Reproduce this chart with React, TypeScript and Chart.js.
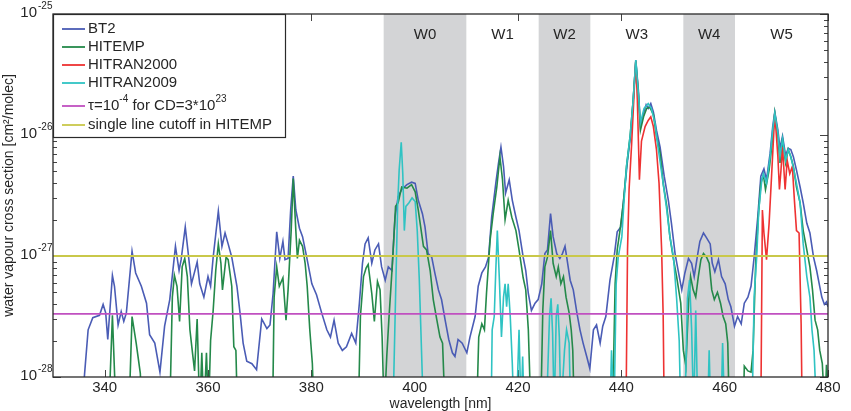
import React, { useEffect, useRef } from 'react';
import { Chart, registerables } from 'chart.js';

Chart.register(...registerables);

// Wavelength range [nm] and cross-section range [cm^2/molec]
const X_MIN = 330;
const X_MAX = 480;
const Y_MIN = 1e-28;
const Y_MAX = 1e-25;

// Tick values
const xTicks = [340, 360, 380, 400, 420, 440, 460, 480];
const yDecades = [-28, -27, -26, -25];

// Spectral windows (shaded ones and all labels)
const bandStart = [394, 424, 452];
const bandEnd = [410, 434, 462];
const windowNames = ['W0', 'W1', 'W2', 'W3', 'W4', 'W5'];
const windowCenters = [402, 417, 429, 443, 457, 471];

// Reference levels
const tauLevel = 3.33e-28; // tau = 1e-4 for CD = 3e23
const cutoffLevel = 1e-27; // single line cutoff in HITEMP

// Series: [wavelength nm, log10 cross section]
const bt2: [number, number][] = [
  [335.6, -28.3], [336.1, -27.98], [336.8, -27.61], [337.7, -27.51], [339.0, -27.49], [339.7, -27.4],
  [340.2, -27.47], [340.6, -27.69], [341.5, -27.16], [341.9, -27.25], [342.6, -27.57], [343.2, -27.46],
  [343.7, -27.54], [344.2, -27.47], [345.3, -26.96], [346.0, -27.14], [347.1, -27.25], [348.1, -27.39],
  [348.7, -27.65], [349.7, -27.72], [350.7, -27.96], [351.6, -27.58], [352.6, -27.36], [353.7, -26.92],
  [354.4, -27.12], [354.8, -27.03], [355.6, -26.76], [356.1, -26.95], [356.8, -27.23], [357.9, -27.05],
  [358.4, -27.23], [359.2, -27.34], [360.0, -27.17], [360.5, -27.25], [361.0, -27.01], [362.0, -26.63],
  [362.7, -26.92], [363.3, -26.81], [363.9, -26.9], [364.6, -27.01], [365.6, -27.25], [366.2, -27.47],
  [366.8, -27.72], [367.5, -27.87], [368.5, -27.89], [369.4, -27.94], [370.4, -27.52], [371.4, -27.6],
  [372.0, -27.57], [372.6, -27.31], [373.3, -26.8], [373.9, -27.02], [374.5, -26.88], [374.9, -27.03],
  [375.5, -27.02], [376.0, -26.62], [376.5, -26.34], [377.0, -26.62], [377.7, -26.77], [378.3, -26.84],
  [379.1, -27.01], [380.1, -27.23], [381.0, -27.32], [382.0, -27.47], [383.0, -27.61], [383.7, -27.67],
  [384.4, -27.53], [385.2, -27.72], [386.0, -27.78], [386.8, -27.75], [387.8, -27.64], [388.6, -27.72],
  [389.3, -27.39], [389.9, -27.06], [390.4, -26.9], [391.0, -26.85], [391.7, -27.06], [392.3, -26.95],
  [393.0, -26.9], [393.6, -27.09], [394.3, -27.2], [394.9, -27.09], [395.6, -27.12], [396.2, -26.68],
  [396.8, -26.51], [397.5, -26.45], [398.5, -26.41], [399.4, -26.39], [400.1, -26.4], [400.7, -26.54],
  [401.5, -26.65], [402.0, -26.76], [402.6, -26.98], [403.3, -27.01], [403.9, -27.14], [404.6, -27.28],
  [405.2, -27.36], [405.9, -27.53], [406.6, -27.69], [407.3, -27.8], [407.8, -27.83], [408.4, -27.69],
  [409.2, -27.72], [410.1, -27.8], [410.7, -27.67], [411.7, -27.5], [412.3, -27.25], [413.0, -27.14],
  [413.7, -27.09], [414.3, -27.01], [414.9, -26.68], [415.7, -26.4], [416.2, -26.24], [416.7, -26.1],
  [417.2, -26.26], [417.6, -26.48], [418.3, -26.37], [418.9, -26.54], [419.6, -26.68], [420.2, -26.79],
  [421.0, -27.01], [421.5, -27.12], [422.0, -27.31], [422.6, -27.45], [423.3, -27.39], [423.9, -27.36],
  [424.6, -27.23], [425.2, -26.98], [425.7, -26.95], [426.3, -26.65], [426.8, -26.84], [427.5, -26.98],
  [428.1, -27.02], [428.6, -26.98], [429.1, -26.92], [429.5, -27.03], [430.1, -27.2], [430.7, -27.28],
  [431.4, -27.47], [432.0, -27.61], [432.6, -27.72], [433.3, -27.83], [433.9, -27.93], [434.6, -27.61],
  [435.2, -27.57], [435.9, -27.72], [436.4, -27.58], [437.0, -27.5], [437.8, -27.2], [438.6, -27.01],
  [439.2, -26.8], [439.9, -26.76], [440.5, -26.51], [441.2, -26.21], [441.8, -26.0], [442.3, -25.71],
  [442.8, -25.38], [443.3, -25.63], [443.7, -25.93], [444.3, -25.82], [444.8, -25.75], [445.2, -25.78],
  [445.7, -25.74], [446.2, -25.81], [446.8, -25.96], [447.5, -26.1], [448.3, -26.34], [449.1, -26.54],
  [449.7, -26.73], [450.4, -26.98], [451.0, -27.12], [451.7, -27.28], [452.3, -27.14], [453.0, -27.02],
  [453.6, -27.06], [454.1, -27.17], [454.8, -26.98], [455.2, -26.88], [455.9, -26.81], [456.5, -26.85],
  [457.2, -26.9], [457.6, -27.06], [458.1, -27.13], [458.8, -27.03], [459.4, -27.17], [460.1, -27.23],
  [460.7, -27.36], [461.2, -27.42], [461.9, -27.58], [462.5, -27.5], [463.2, -27.56], [463.8, -27.39],
  [464.5, -27.34], [465.1, -27.25], [465.7, -27.01], [466.4, -26.68], [467.0, -26.34], [467.6, -26.28],
  [468.1, -26.37], [468.8, -26.15], [469.3, -25.93], [469.7, -25.81], [470.3, -25.96], [470.7, -26.11],
  [471.2, -26.01], [471.8, -26.17], [472.3, -26.11], [472.8, -26.12], [473.3, -26.18], [473.9, -26.29],
  [474.6, -26.43], [475.2, -26.56], [475.9, -26.73], [476.5, -26.81], [477.2, -27.01], [477.8, -27.12],
  [478.3, -27.23], [478.8, -27.34], [479.3, -27.4], [479.7, -27.38], [480.0, -27.42],
];

const hitemp: [number, number][] = [
  [340.8, -28.3], [341.5, -27.49], [342.2, -28.3], [344.7, -28.3], [345.3, -27.5], [346.1, -27.72],
  [346.9, -27.97], [347.2, -28.3], [352.6, -28.3], [353.1, -27.34], [353.5, -27.16], [354.0, -27.25],
  [354.5, -27.54], [355.0, -27.09], [355.5, -27.02], [356.0, -27.17], [356.5, -27.61], [357.0, -27.8],
  [357.4, -27.95], [357.9, -27.52], [358.4, -28.3], [358.8, -27.8], [359.2, -28.3], [359.7, -27.8],
  [360.1, -28.3], [360.5, -27.7], [361.0, -27.45], [361.5, -27.12], [362.0, -26.9], [362.5, -27.06],
  [362.8, -27.28], [363.5, -27.01], [363.9, -27.03], [364.6, -27.25], [365.0, -27.75], [365.4, -27.78],
  [365.7, -28.3], [372.5, -28.3], [372.8, -27.34], [373.3, -27.09], [373.8, -27.25], [374.5, -27.18],
  [375.1, -27.53], [375.5, -27.28], [376.1, -26.79], [376.5, -26.36], [377.0, -26.79], [377.3, -27.02],
  [377.7, -26.87], [378.3, -26.92], [378.8, -27.06], [379.2, -27.25], [379.7, -27.61], [380.2, -27.89],
  [380.5, -28.3], [389.1, -28.3], [389.5, -27.5], [390.1, -27.17], [390.6, -27.1], [391.0, -27.07],
  [391.7, -27.31], [392.2, -27.54], [392.8, -27.21], [393.3, -27.28], [393.7, -27.67], [394.1, -28.3],
  [394.6, -27.83], [395.0, -27.53], [395.7, -27.06], [396.3, -26.59], [396.8, -26.56], [397.5, -26.43],
  [398.5, -26.44], [399.4, -26.41], [400.1, -26.47], [400.7, -26.62], [401.7, -26.92], [402.3, -26.95],
  [403.0, -27.12], [403.6, -27.36], [404.3, -27.53], [404.9, -27.67], [405.4, -27.72], [405.9, -28.3],
  [412.0, -28.3], [412.4, -27.67], [413.0, -27.56], [413.5, -27.61], [413.9, -27.31], [414.6, -26.87],
  [415.2, -26.65], [415.9, -26.43], [416.5, -26.18], [417.0, -26.37], [417.5, -26.7], [418.1, -26.54],
  [418.8, -26.68], [419.6, -26.79], [420.2, -26.95], [421.0, -27.18], [421.5, -27.28], [422.0, -27.61],
  [422.5, -28.3], [424.4, -28.3], [424.8, -27.45], [425.2, -27.09], [425.7, -27.01], [426.3, -26.79],
  [426.8, -27.06], [427.4, -27.17], [427.8, -27.09], [428.3, -27.23], [428.8, -27.17], [429.3, -27.34],
  [429.9, -27.47], [430.3, -27.61], [430.6, -27.78], [430.9, -28.3], [438.3, -28.3], [438.8, -27.23],
  [439.2, -26.95], [439.7, -26.8], [440.4, -26.56], [441.0, -26.26], [441.7, -26.01], [442.3, -25.71],
  [442.8, -25.39], [443.3, -25.66], [443.7, -25.96], [444.3, -25.85], [444.9, -25.78], [445.5, -25.77],
  [446.2, -25.83], [446.8, -26.01], [447.5, -26.15], [448.1, -26.4], [448.8, -26.59], [449.4, -26.84],
  [450.1, -27.03], [450.7, -27.17], [451.5, -27.39], [452.0, -27.78], [452.5, -27.91], [453.0, -27.39],
  [453.4, -27.17], [453.9, -27.28], [454.4, -27.34], [454.9, -27.17], [455.4, -27.03], [455.9, -26.98],
  [456.5, -27.01], [457.0, -27.06], [457.5, -27.28], [458.0, -27.36], [458.6, -27.3], [459.2, -27.39],
  [459.7, -27.5], [460.2, -27.56], [460.6, -27.72], [460.9, -28.3], [463.6, -28.3], [463.8, -27.91],
  [464.5, -27.95], [465.1, -27.96], [465.5, -27.78], [466.0, -27.06], [466.5, -26.68], [467.0, -26.4],
  [467.5, -26.33], [467.9, -26.45], [468.6, -26.29], [469.1, -26.1], [469.7, -25.82], [470.3, -26.01],
  [470.7, -26.23], [471.2, -26.04], [471.8, -26.23], [472.3, -26.12], [472.8, -26.18], [473.3, -26.26],
  [473.9, -26.43], [474.6, -26.56], [475.2, -26.79], [475.9, -26.95], [476.5, -27.09], [477.0, -27.28],
  [477.5, -27.53], [478.0, -27.61], [478.4, -27.78], [478.9, -27.89], [479.4, -28.3], [479.7, -27.9],
  [480.0, -28.1],
];

const hitran2000: [number, number][] = [
  [440.9, -28.3], [441.2, -26.95], [441.5, -26.45], [442.0, -26.07], [442.5, -25.63], [442.8, -25.39],
  [443.1, -25.71], [443.5, -26.37], [443.9, -26.05], [444.6, -25.93], [445.2, -25.88], [445.7, -25.85],
  [446.2, -25.93], [446.8, -26.12], [447.3, -26.4], [447.8, -26.95], [448.1, -27.5], [448.3, -28.3],
  [467.0, -28.3], [467.3, -26.62], [467.6, -26.81], [468.1, -27.03], [468.6, -26.73], [469.1, -26.32],
  [469.7, -25.82], [470.3, -26.18], [470.6, -26.45], [470.9, -26.29], [471.2, -26.1], [471.7, -26.45],
  [472.1, -26.21], [472.6, -26.32], [473.1, -26.26], [473.5, -26.54], [473.9, -26.79], [474.4, -26.81],
  [474.8, -27.56], [475.0, -28.3],
];

const hitran2009: [number, number][] = [
  [395.8, -28.3], [396.3, -27.34], [396.7, -26.59], [397.0, -26.29], [397.4, -26.06], [397.7, -26.32],
  [398.0, -26.79], [398.3, -26.59], [398.9, -26.56], [399.5, -26.52], [400.1, -26.55], [400.5, -26.79],
  [400.9, -27.2], [401.2, -27.61], [401.7, -28.3], [414.8, -28.3], [415.0, -27.61], [415.4, -27.5],
  [415.7, -27.12], [416.0, -26.79], [416.4, -27.2], [416.8, -27.67], [417.2, -27.34], [417.5, -27.23],
  [417.8, -27.42], [418.1, -27.23], [418.5, -27.5], [418.9, -27.89], [419.2, -28.3], [419.7, -28.3],
  [420.2, -27.61], [420.6, -28.3], [420.9, -27.83], [421.2, -28.3], [425.5, -28.3], [426.1, -27.5],
  [426.4, -27.35], [426.7, -27.64], [427.0, -28.3], [427.4, -27.5], [427.7, -27.4], [428.0, -27.67],
  [428.3, -28.3], [429.0, -27.78], [429.4, -27.61], [429.9, -27.72], [430.2, -28.3], [437.8, -28.3],
  [438.1, -27.78], [438.6, -28.3], [439.0, -27.23], [439.4, -27.01], [440.1, -26.84], [440.5, -26.56],
  [441.0, -26.26], [441.7, -26.01], [442.3, -25.71], [442.8, -25.38], [443.3, -25.66], [443.7, -25.9],
  [444.4, -25.78], [445.2, -25.74], [445.8, -25.78], [446.5, -25.9], [447.1, -26.1], [448.0, -26.37],
  [448.8, -26.62], [449.4, -26.84], [450.1, -27.01], [450.7, -27.35], [451.2, -27.7], [451.5, -28.3],
  [452.3, -28.3], [452.8, -27.35], [453.2, -27.2], [453.6, -27.6], [454.0, -28.3], [454.4, -27.45],
  [454.8, -28.3], [456.7, -28.3], [457.0, -27.78], [457.3, -28.3], [459.3, -28.3], [459.6, -27.72],
  [460.0, -28.3], [465.3, -28.3], [465.7, -27.34], [466.2, -27.01], [466.6, -26.62], [467.2, -26.37],
  [467.5, -26.32], [468.1, -26.4], [468.8, -26.18], [469.3, -25.96], [469.7, -25.82], [470.3, -25.98],
  [470.7, -26.18], [471.2, -26.03], [471.8, -26.21], [472.3, -26.12], [472.8, -26.18], [473.3, -26.27],
  [473.9, -26.4], [474.6, -26.56], [475.2, -26.9], [475.9, -27.17], [476.5, -27.34], [476.9, -27.61],
  [477.3, -27.78], [477.8, -28.3],
];

const FONT = '"Liberation Sans", Arial, Helvetica, sans-serif';
const TEXT = '#262626';

const COLORS = {
  bt2: '#4a5cb5',
  hitemp: '#24894a',
  hitran2000: '#ee3232',
  hitran2009: '#2fc3c3',
  tau: '#c050c0',
  cutoff: '#c9c84a',
  band: '#d3d4d6',
};

type Part = { t: string; sup?: boolean };

const legendEntries: { color: string; parts: Part[] }[] = [
  { color: COLORS.bt2, parts: [{ t: 'BT2' }] },
  { color: COLORS.hitemp, parts: [{ t: 'HITEMP' }] },
  { color: COLORS.hitran2000, parts: [{ t: 'HITRAN2000' }] },
  { color: COLORS.hitran2009, parts: [{ t: 'HITRAN2009' }] },
  {
    color: COLORS.tau,
    parts: [{ t: 'τ=10' }, { t: '-4', sup: true }, { t: ' for CD=3*10' }, { t: '23', sup: true }],
  },
  { color: COLORS.cutoff, parts: [{ t: 'single line cutoff in HITEMP' }] },
];

const toPoints = (s: [number, number][]) => s.map(([x, e]) => ({ x, y: Math.pow(10, e) }));

function drawRich(ctx: CanvasRenderingContext2D, parts: Part[], x: number, y: number, size: number) {
  let cx = x;
  ctx.textAlign = 'left';
  ctx.textBaseline = 'middle';
  for (const p of parts) {
    const fs = p.sup ? Math.round(size * 0.66) : size;
    ctx.font = `${fs}px ${FONT}`;
    ctx.fillText(p.t, cx, p.sup ? y - size * 0.42 : y);
    cx += ctx.measureText(p.t).width;
  }
}

const decor = {
  id: 'decor',
  beforeDatasetsDraw(chart: any) {
    const { ctx, chartArea: a, scales } = chart;
    const xs = scales.x;
    const ys = scales.y;
    ctx.save();
    // tick marks (inside, on all four sides)
    ctx.strokeStyle = '#444';
    ctx.lineWidth = 1;
    ctx.beginPath();
    for (const v of xTicks) {
      const px = Math.round(xs.getPixelForValue(v)) + 0.5;
      ctx.moveTo(px, a.bottom);
      ctx.lineTo(px, a.bottom - 7);
      ctx.moveTo(px, a.top);
      ctx.lineTo(px, a.top + 7);
    }
    for (const e of yDecades) {
      for (let m = 1; m <= 9; m++) {
        const val = m * Math.pow(10, e);
        if (val > Y_MAX * 1.0001) continue;
        const py = Math.round(ys.getPixelForValue(val)) + 0.5;
        const len = m === 1 ? 8 : 4;
        ctx.moveTo(a.left, py);
        ctx.lineTo(a.left + len, py);
        ctx.moveTo(a.right, py);
        ctx.lineTo(a.right - len, py);
      }
    }
    ctx.stroke();
    // shaded windows
    ctx.fillStyle = COLORS.band;
    bandStart.forEach((s, i) => {
      const x0 = xs.getPixelForValue(s);
      const x1 = xs.getPixelForValue(bandEnd[i]);
      ctx.fillRect(x0, a.top, x1 - x0, a.bottom - a.top);
    });
    // window names
    ctx.fillStyle = TEXT;
    ctx.font = `15px ${FONT}`;
    ctx.textAlign = 'center';
    ctx.textBaseline = 'middle';
    windowNames.forEach((n, i) => {
      ctx.fillText(n, xs.getPixelForValue(windowCenters[i]), a.top + 21);
    });
    ctx.restore();
  },
  afterDatasetsDraw(chart: any) {
    const { ctx, chartArea: a, scales } = chart;
    const xs = scales.x;
    const ys = scales.y;
    ctx.save();
    // axes box
    ctx.strokeStyle = '#2a2a2a';
    ctx.lineWidth = 1.3;
    ctx.strokeRect(a.left, a.top, a.right - a.left, a.bottom - a.top);

    // x tick labels
    ctx.fillStyle = TEXT;
    ctx.font = `15px ${FONT}`;
    ctx.textAlign = 'center';
    ctx.textBaseline = 'middle';
    for (const v of xTicks) {
      ctx.fillText(String(v), xs.getPixelForValue(v), a.bottom + 11);
    }
    // y tick labels: 10 with superscript exponent
    for (const e of yDecades) {
      const py = ys.getPixelForValue(Math.pow(10, e));
      ctx.font = `15px ${FONT}`;
      ctx.textAlign = 'right';
      ctx.textBaseline = 'middle';
      ctx.fillText('10', a.left - 16, py - 1);
      ctx.font = `10px ${FONT}`;
      ctx.textAlign = 'left';
      ctx.fillText(String(e), a.left - 15, py - 8);
    }
    // axis titles
    ctx.font = `14px ${FONT}`;
    ctx.textAlign = 'center';
    ctx.textBaseline = 'middle';
    ctx.fillText('wavelength [nm]', (a.left + a.right) / 2, a.bottom + 27);
    ctx.save();
    ctx.translate(9, (a.top + a.bottom) / 2);
    ctx.rotate(-Math.PI / 2);
    ctx.fillText('water vapour cross section [cm²/molec]', 0, 0);
    ctx.restore();

    // legend
    const lx = a.left;
    const ly = a.top;
    const lw = 232;
    const lh = 123;
    ctx.fillStyle = '#ffffff';
    ctx.fillRect(lx, ly, lw, lh);
    ctx.strokeStyle = '#2a2a2a';
    ctx.lineWidth = 1.2;
    ctx.strokeRect(lx + 0.5, ly + 0.5, lw, lh);
    const rows = [15, 33, 51, 69, 92, 111];
    legendEntries.forEach((entry, i) => {
      const ry = ly + rows[i];
      ctx.strokeStyle = entry.color;
      ctx.lineWidth = 1.8;
      ctx.beginPath();
      ctx.moveTo(lx + 9, ry);
      ctx.lineTo(lx + 32, ry);
      ctx.stroke();
      ctx.fillStyle = TEXT;
      drawRich(ctx, entry.parts, lx + 35, ry, 15);
    });
    ctx.restore();
  },
};

export default function App() {
  const canvasRef = useRef<HTMLCanvasElement | null>(null);

  useEffect(() => {
    document.body.style.margin = '0';
    const canvas = canvasRef.current;
    if (!canvas) return;
    const line = (label: string, data: any[], color: string, width: number, order: number) => ({
      label,
      data,
      borderColor: color,
      backgroundColor: color,
      borderWidth: width,
      pointRadius: 0,
      tension: 0,
      fill: false,
      clip: 0,
      order,
    });
    const chart = new Chart(canvas, {
      type: 'line',
      data: {
        datasets: [
          line('BT2', toPoints(bt2), COLORS.bt2, 1.6, 6),
          line('HITEMP', toPoints(hitemp), COLORS.hitemp, 1.6, 5),
          line('HITRAN2000', toPoints(hitran2000), COLORS.hitran2000, 1.6, 4),
          line('HITRAN2009', toPoints(hitran2009), COLORS.hitran2009, 1.6, 3),
          line('tau', [{ x: X_MIN, y: tauLevel }, { x: X_MAX, y: tauLevel }], COLORS.tau, 1.8, 2),
          line('cutoff', [{ x: X_MIN, y: cutoffLevel }, { x: X_MAX, y: cutoffLevel }], COLORS.cutoff, 1.8, 1),
        ],
      },
      options: {
        animation: false,
        responsive: false,
        maintainAspectRatio: false,
        devicePixelRatio: 1,
        layout: { padding: { left: 53, right: 23, top: 14, bottom: 34 } },
        plugins: { legend: { display: false }, tooltip: { enabled: false } },
        scales: {
          x: { type: 'linear', min: X_MIN, max: X_MAX, display: false },
          y: { type: 'logarithmic', min: Y_MIN, max: Y_MAX, display: false },
        },
      },
      plugins: [decor],
    } as any);
    return () => chart.destroy();
  }, []);

  return (
    <div style={{ width: 851, height: 411, background: '#fff' }}>
      <canvas ref={canvasRef} width={851} height={411} style={{ width: 851, height: 411, display: 'block' }} />
    </div>
  );
}
